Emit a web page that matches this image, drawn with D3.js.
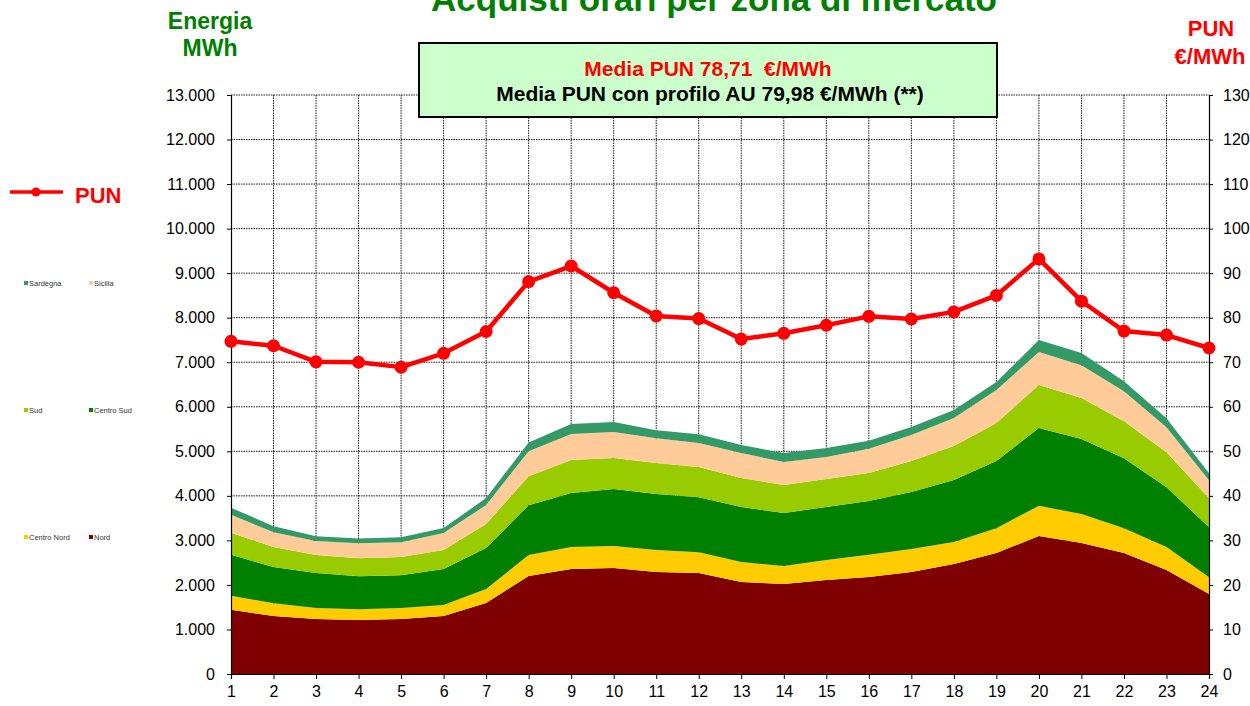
<!DOCTYPE html>
<html>
<head>
<meta charset="utf-8">
<script src="https://cdn.jsdelivr.net/npm/d3@7"></script>
<style>
  body { margin: 0; background: #fff; }
  svg { display: block; font-family: "Liberation Sans", Arial, sans-serif; }
</style>
</head>
<body>
<div id="chart"></div>
<script>
////////////////////////////////////////////////////////////
///////////////////////// Data /////////////////////////////
////////////////////////////////////////////////////////////

var hours = d3.range(1, 25);

var zones = ["Nord", "Centro Nord", "Centro Sud", "Sud", "Sicilia", "Sardegna"];
var zoneColors = ["#7f0000", "#ffcc00", "#008000", "#99cc00", "#ffcc99", "#339966"];

//MWh per zona, ora 1..24
var nord       = [1440, 1300, 1235, 1210, 1235, 1300, 1595, 2200, 2355, 2380, 2290, 2265, 2065, 2020, 2110, 2180, 2290, 2470, 2715, 3100, 2940, 2715, 2335, 1795];
var centroNord = [ 315,  290,  245,  245,  245,  250,  315,  470,  495,  495,  495,  470,  450,  405,  450,  495,  515,  495,  560,  675,  650,  560,  515,  380];
var centroSud  = [ 920,  810,  785,  740,  740,  810,  920, 1120, 1215, 1280, 1255, 1235, 1235, 1190, 1190, 1210, 1280, 1390, 1505, 1750, 1685, 1570, 1345, 1120];
var sud        = [ 495,  450,  405,  405,  405,  425,  540,  650,  740,  695,  695,  675,  650,  630,  630,  630,  695,  765,  855,  965,  920,  830,  785,  650];
var sicilia    = [ 405,  335,  315,  335,  335,  380,  425,  560,  585,  585,  560,  540,  560,  515,  495,  540,  585,  630,  740,  740,  740,  675,  560,  405];
var sardegna   = [ 155,  135,  110,  110,  110,  115,  155,  200,  225,  225,  180,  200,  180,  200,  200,  180,  180,  180,  180,  270,  270,  225,  205,  155];

//PUN €/MWh
var pun = [74.7, 73.7, 70.1, 70.0, 68.9, 72.0, 76.9, 88.1, 91.6, 85.6, 80.4, 79.8, 75.2, 76.5, 78.3, 80.3, 79.7, 81.3, 85.0, 93.2, 83.7, 77.0, 76.1, 73.2];

var leftTicks = d3.range(0, 13001, 1000);
var rightTicks = d3.range(0, 131, 10);

var legendRows = [["Sardegna", "Sicilia"], ["Sud", "Centro Sud"], ["Centro Nord", "Nord"]];

////////////////////////////////////////////////////////////
//////////////////////// Setup /////////////////////////////
////////////////////////////////////////////////////////////

var width = 1250, height = 706;
var plot = {left: 231, right: 1209, top: 95, bottom: 674};

var svg = d3.select("#chart").append("svg")
	.attr("width", width)
	.attr("height", height);

var x = d3.scaleLinear().domain([1, 24]).range([plot.left, plot.right]);
var yL = d3.scaleLinear().domain([0, 13000]).range([plot.bottom, plot.top]);
var yR = d3.scaleLinear().domain([0, 130]).range([plot.bottom, plot.top]);

var seriesData = [nord, centroNord, centroSud, sud, sicilia, sardegna];
var rows = hours.map(function(h, i) {
	var r = {hour: h};
	zones.forEach(function(z, j) { r[z] = seriesData[j][i]; });
	return r;
});

////////////////////////////////////////////////////////////
//////////////////////// Grid //////////////////////////////
////////////////////////////////////////////////////////////

var grid = svg.append("g").attr("class", "grid");

grid.selectAll(".hgrid")
	.data(leftTicks.filter(function(d) { return d > 0; }))
	.enter().append("line")
	.attr("x1", plot.left).attr("x2", plot.right)
	.attr("y1", function(d) { return yL(d); })
	.attr("y2", function(d) { return yL(d); })
	.style("stroke", "#1a1a1a")
	.style("stroke-width", 1)
	.style("stroke-dasharray", "1.5,1");

grid.selectAll(".vgrid")
	.data(hours.slice(1, -1))
	.enter().append("line")
	.attr("x1", function(d) { return x(d); })
	.attr("x2", function(d) { return x(d); })
	.attr("y1", plot.top).attr("y2", plot.bottom)
	.style("stroke", "#1a1a1a")
	.style("stroke-width", 1)
	.style("stroke-dasharray", "1.5,1");

////////////////////////////////////////////////////////////
/////////////////////// Areas //////////////////////////////
////////////////////////////////////////////////////////////

var stack = d3.stack().keys(zones);
var layers = stack(rows);

var area = d3.area()
	.x(function(d) { return x(d.data.hour); })
	.y0(function(d) { return yL(d[0]); })
	.y1(function(d) { return yL(d[1]); });

svg.append("g").selectAll("path")
	.data(layers)
	.enter().append("path")
	.attr("d", area)
	.style("fill", function(d, i) { return zoneColors[i]; });

////////////////////////////////////////////////////////////
/////////////////////// Axes ///////////////////////////////
////////////////////////////////////////////////////////////

var axisLeft = svg.append("g")
	.attr("transform", "translate(" + plot.left + ",0)")
	.call(d3.axisLeft(yL).tickValues(leftTicks).tickSize(4).tickPadding(12)
		.tickFormat(function(d) { return d3.format(",")(d).replace(/,/g, "."); }));

var axisRight = svg.append("g")
	.attr("transform", "translate(" + plot.right + ",0)")
	.call(d3.axisRight(yR).tickValues(rightTicks).tickSize(4).tickPadding(10));

var axisBottom = svg.append("g")
	.attr("transform", "translate(0," + plot.bottom + ")")
	.call(d3.axisBottom(x).tickValues(hours).tickSize(5).tickPadding(7));

[axisLeft, axisRight, axisBottom].forEach(function(a) {
	a.select(".domain").style("stroke", "#000").style("stroke-width", 1.2);
	a.selectAll(".tick line").style("stroke", "#000");
	a.selectAll("text")
		.style("font-size", "16px")
		.style("fill", "#000")
		.style("font-family", "'Liberation Sans', Arial, sans-serif");
});

////////////////////////////////////////////////////////////
/////////////////////// PUN line ///////////////////////////
////////////////////////////////////////////////////////////

var punLine = d3.line()
	.x(function(d, i) { return x(hours[i]); })
	.y(function(d) { return yR(d); });

svg.append("path")
	.datum(pun)
	.attr("d", punLine)
	.style("fill", "none")
	.style("stroke", "#ff0000")
	.style("stroke-width", 4.5)
	.style("stroke-linejoin", "round");

svg.selectAll(".pun-dot")
	.data(pun)
	.enter().append("circle")
	.attr("class", "pun-dot")
	.attr("cx", function(d, i) { return x(hours[i]); })
	.attr("cy", function(d) { return yR(d); })
	.attr("r", 6.5)
	.style("fill", "#ff0000");

////////////////////////////////////////////////////////////
////////////////////// Titles //////////////////////////////
////////////////////////////////////////////////////////////

svg.append("text")
	.attr("x", 714).attr("y", 11)
	.attr("text-anchor", "middle")
	.style("font-size", "35px").style("font-weight", "bold")
	.style("fill", "#008000")
	.text("Acquisti orari per zona di mercato");

var leftTitle = svg.append("text")
	.attr("text-anchor", "middle")
	.style("font-size", "23px").style("font-weight", "bold")
	.style("fill", "#008000");
leftTitle.append("tspan").attr("x", 210).attr("y", 29).text("Energia");
leftTitle.append("tspan").attr("x", 210).attr("y", 56).text("MWh");

var rightTitle = svg.append("text")
	.attr("text-anchor", "middle")
	.style("font-size", "22px").style("font-weight", "bold")
	.style("fill", "#ff0000");
rightTitle.append("tspan").attr("x", 1211).attr("y", 36).text("PUN");
rightTitle.append("tspan").attr("x", 1210).attr("y", 64).text("€/MWh");

////////////////////////////////////////////////////////////
/////////////////////// Info box ///////////////////////////
////////////////////////////////////////////////////////////

svg.append("rect")
	.attr("x", 419).attr("y", 43)
	.attr("width", 578).attr("height", 74)
	.style("fill", "#ccffcc")
	.style("stroke", "#000")
	.style("stroke-width", 2);

svg.append("text")
	.attr("x", 708).attr("y", 76)
	.attr("text-anchor", "middle")
	.attr("xml:space", "preserve")
	.style("font-size", "21px").style("font-weight", "bold")
	.style("fill", "#ff0000")
	.text("Media PUN 78,71  €/MWh");

svg.append("text")
	.attr("x", 710).attr("y", 101)
	.attr("text-anchor", "middle")
	.style("font-size", "21px").style("font-weight", "bold")
	.style("fill", "#000")
	.text("Media PUN con profilo AU 79,98 €/MWh (**)");

////////////////////////////////////////////////////////////
/////////////////////// Legends ////////////////////////////
////////////////////////////////////////////////////////////

var punLegend = svg.append("g");
punLegend.append("line")
	.attr("x1", 10).attr("x2", 63).attr("y1", 192).attr("y2", 192)
	.style("stroke", "#ff0000").style("stroke-width", 3.5);
punLegend.append("circle")
	.attr("cx", 36).attr("cy", 192).attr("r", 4.5)
	.style("fill", "#ff0000");
punLegend.append("text")
	.attr("x", 75).attr("y", 203)
	.style("font-size", "22px").style("font-weight", "bold")
	.style("fill", "#ff0000")
	.text("PUN");

var rowY = [283, 410, 537];
var colX = [24, 89];
legendRows.forEach(function(row, r) {
	row.forEach(function(name, c) {
		var g = svg.append("g")
			.attr("transform", "translate(" + colX[c] + "," + rowY[r] + ")");
		g.append("rect")
			.attr("x", 0).attr("y", -2)
			.attr("width", 4).attr("height", 4)
			.style("fill", zoneColors[zones.indexOf(name)]);
		g.append("text")
			.attr("x", 5).attr("y", 2.6)
			.style("font-size", "7.5px")
			.style("fill", "#333")
			.text(name);
	});
});
</script>
</body>
</html>
